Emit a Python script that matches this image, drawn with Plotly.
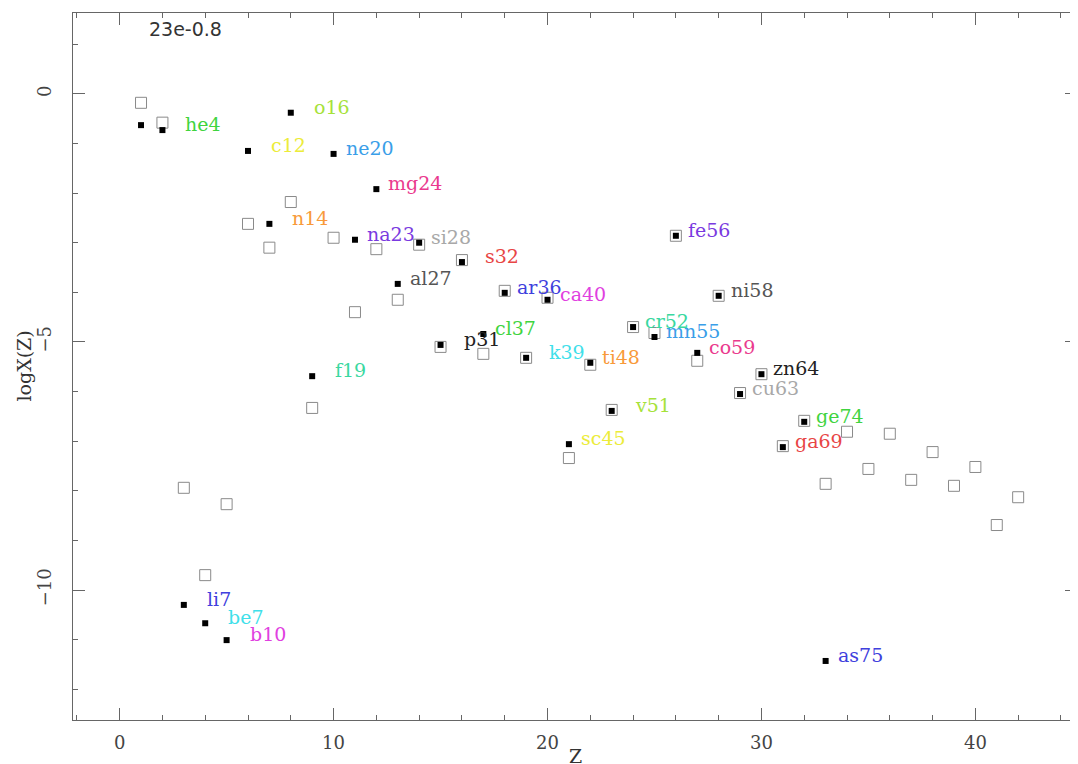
import plotly.graph_objects as go

# ---- data ----
z_filled = list(range(1, 34))
logx_filled = [-0.63, -0.73, -10.30, -10.67, -11.01, -1.15, -2.62, -0.38, -5.69, -1.21,
               -2.94, -1.92, -3.83, -3.00, -5.06, -3.39, -4.84, -4.01, -5.32, -4.15,
               -7.06, -5.42, -6.39, -4.70, -4.90, -2.86, -5.22, -4.07, -6.05, -5.65,
               -7.12, -6.61, -11.43]
isotope_labels = ["", "he4", "li7", "be7", "b10", "c12", "n14", "o16", "f19", "ne20",
                  "na23", "mg24", "al27", "si28", "p31", "s32", "cl37", "ar36", "k39", "ca40",
                  "sc45", "ti48", "v51", "cr52", "mn55", "fe56", "co59", "ni58", "cu63", "zn64",
                  "ga69", "ge74", "as75"]
z_open = list(range(1, 43))
logx_open = [-0.18, -0.58, -7.94, -9.70, -8.27, -2.62, -3.10, -2.18, -6.33, -2.90,
             -4.40, -3.13, -4.15, -3.04, -5.10, -3.35, -5.24, -3.97, -5.32, -4.11,
             -7.34, -5.46, -6.37, -4.70, -4.82, -2.86, -5.38, -4.07, -6.03, -5.65,
             -7.10, -6.59, -7.86, -6.81, -7.56, -6.85, -7.78, -7.22, -7.90, -7.52,
             -8.69, -8.13]
x_tick_labels = ["0", "10", "20", "30", "40"]
y_tick_labels = ["−10", "−5", "0"]
title_text = "23e-0.8"

# pgplot-like colour cycle (softened), starting at he4
palette = ["#e84545", "#3fd43f", "#4040dd", "#3fe0ea", "#e040e0", "#ecec3a",
           "#f89a3a", "#a6e23a", "#3ad8a0", "#3a9ee8", "#7a3ae0", "#ea3a8e",
           "#555555", "#a8a8a8", "#222222"]

fig = go.Figure()
fig.add_trace(go.Scatter(x=z_open, y=logx_open, mode="markers",
                         marker=dict(symbol="square-open", size=11, color="#8a8a8a",
                                     line=dict(width=1, color="#8a8a8a")),
                         showlegend=False, hoverinfo="skip"))
fig.add_trace(go.Scatter(x=z_filled, y=logx_filled, mode="markers",
                         marker=dict(symbol="square", size=6, color="black"),
                         showlegend=False))

annotations = []
for i, (z, v, lab) in enumerate(zip(z_filled, logx_filled, isotope_labels)):
    if not lab:
        continue
    col = palette[(i) % len(palette)]
    annotations.append(dict(x=z, y=v, text=lab, showarrow=False, xanchor="left",
                            yanchor="middle", xshift=10 + (4 - len(lab)) * 11, yshift=6,
                            font=dict(family="DejaVu Serif", size=19, color=col)))

annotations.append(dict(x=1.3, y=1.3, text=title_text, showarrow=False, xanchor="left",
                        yanchor="middle", font=dict(family="DejaVu Sans", size=19, color="#333")))
annotations.append(dict(xref="paper", yref="paper", x=0, y=0.5, xshift=-50, text="logX(Z)",
                        textangle=-90, showarrow=False, xanchor="center", yanchor="middle",
                        font=dict(family="DejaVu Serif", size=19, color="#333")))
annotations.append(dict(xref="paper", yref="paper", x=0.5, y=0, yshift=-36, text="Z",
                        showarrow=False, xanchor="center", yanchor="middle",
                        font=dict(family="DejaVu Serif", size=19, color="#333")))

axis_common = dict(showline=True, linecolor="#666", linewidth=1, mirror="allticks",
                   ticks="inside", ticklen=12, tickcolor="#666", tickwidth=1,
                   showgrid=False, zeroline=False, automargin=False,
                   tickfont=dict(family="DejaVu Serif", size=18, color="#444"))

fig.update_layout(
    width=1078, height=764,
    margin=dict(l=65, r=9, t=5, b=52),
    paper_bgcolor="white", plot_bgcolor="white",
    xaxis=dict(range=[-2.18, 44.75], tickvals=[0, 10, 20, 30, 40], ticktext=x_tick_labels,
               minor=dict(dtick=2, tick0=0, ticks="inside", ticklen=5, tickcolor="#666"),
               ticklabelstandoff=6, **axis_common),
    yaxis=dict(range=[-12.62, 1.63], tickvals=[-10, -5, 0], ticktext=y_tick_labels,
               tickangle=-90,
               minor=dict(dtick=1, tick0=0, ticks="inside", ticklen=5, tickcolor="#666"),
               ticklabelstandoff=14, **axis_common),
    annotations=annotations,
)

fig.write_html("out.html")
